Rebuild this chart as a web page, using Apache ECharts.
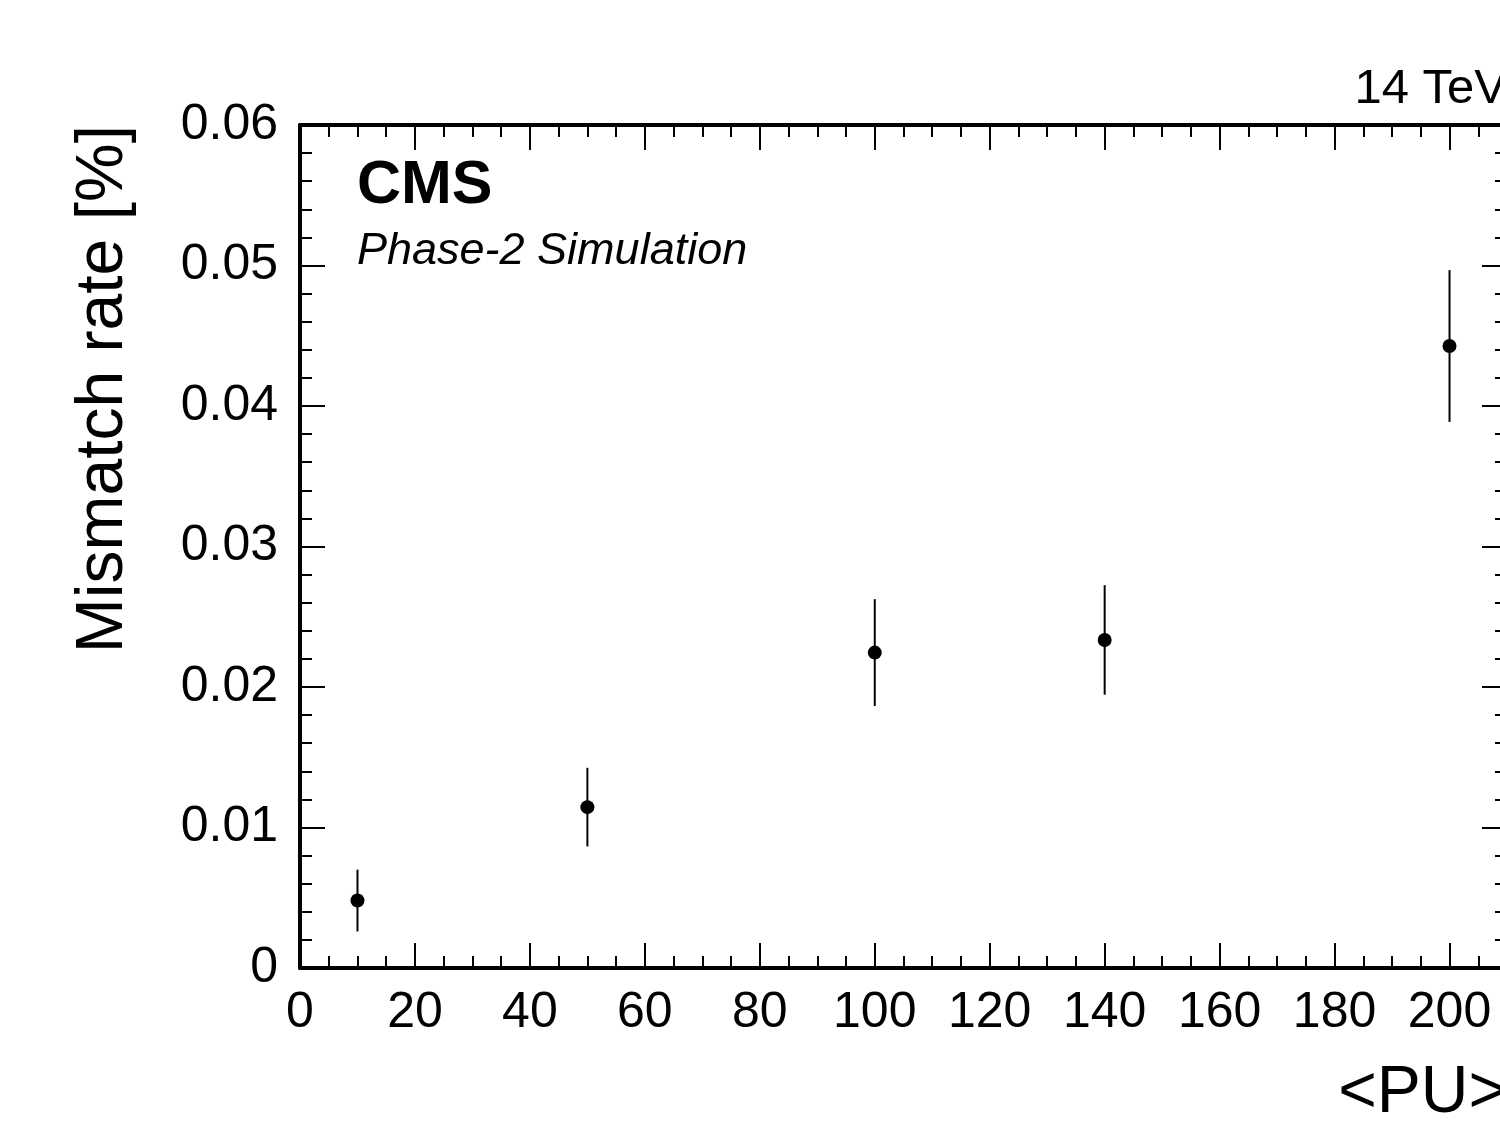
<!DOCTYPE html>
<html>
<head>
<meta charset="utf-8">
<script src="https://cdn.jsdelivr.net/npm/echarts@6/dist/echarts.min.js"></script>
<style>
html,body{margin:0;padding:0;background:#fff;}
#chart{width:1500px;height:1124px;}
</style>
</head>
<body>
<div id="chart"></div>
<script>
// Data
const pu = [10, 50, 100, 140, 200];
const mismatchRate = [0.0048, 0.01145, 0.02245, 0.02335, 0.04427];
const rateError = [0.0022, 0.0028, 0.0038, 0.0039, 0.0054];
const xTicks = [0, 20, 40, 60, 80, 100, 120, 140, 160, 180, 200];
const yTicks = [0, 0.01, 0.02, 0.03, 0.04, 0.05, 0.06];

const FONT = '"Liberation Sans", Arial, Helvetica, sans-serif';

const points = pu.map((x, i) => [x, mismatchRate[i]]);
const errBars = pu.map((x, i) => [x, mismatchRate[i] - rateError[i], mismatchRate[i] + rateError[i]]);

const chart = echarts.init(document.getElementById('chart'), null, {renderer: 'canvas'});

const axisLine = {show: true, onZero: false, lineStyle: {color: '#000', width: 4}};
const tick = (len) => ({show: true, inside: true, length: len, lineStyle: {color: '#000', width: 2}});
const minor = (n) => ({show: true, splitNumber: n, length: 12, lineStyle: {color: '#000', width: 2}});

const xCommon = {
  type: 'value', min: 0, max: 210, interval: 20,
  axisLine: axisLine, axisTick: tick(25), minorTick: minor(4),
  splitLine: {show: false}
};
const yCommon = {
  type: 'value', min: yTicks[0], max: yTicks[yTicks.length - 1], interval: 0.01,
  axisLine: axisLine, axisTick: tick(25), minorTick: minor(5),
  splitLine: {show: false}
};

chart.setOption({
  animation: false,
  backgroundColor: '#fff',
  grid: {left: 300, top: 125, width: 1207, height: 843, containLabel: false, outerBoundsMode: 'none'},
  xAxis: [
    Object.assign({}, xCommon, {
      position: 'bottom',
      axisLabel: {show: true, color: '#000', fontSize: 50, fontFamily: FONT, margin: 20,
        showMaxLabel: false,
        formatter: (v) => (xTicks.indexOf(v) >= 0 ? String(v) : '')}
    }),
    Object.assign({}, xCommon, {position: 'top', axisLabel: {show: false}})
  ],
  yAxis: [
    Object.assign({}, yCommon, {
      position: 'left',
      axisLabel: {show: true, color: '#000', fontSize: 50, fontFamily: FONT, margin: 22,
        padding: [8, 0, 0, 0],
        formatter: (v) => {
          const r = Math.round(v * 100) / 100;
          return r === 0 ? '0' : r.toFixed(2);
        }}
    }),
    Object.assign({}, yCommon, {position: 'right', axisLabel: {show: false}})
  ],
  series: [
    {
      type: 'custom',
      xAxisIndex: 0, yAxisIndex: 0,
      data: errBars,
      renderItem: function (params, api) {
        const lo = api.coord([api.value(0), api.value(1)]);
        const hi = api.coord([api.value(0), api.value(2)]);
        return {
          type: 'line',
          shape: {x1: lo[0], y1: lo[1], x2: hi[0], y2: hi[1]},
          style: {stroke: '#000', lineWidth: 2}
        };
      },
      z: 2
    },
    {
      type: 'scatter',
      xAxisIndex: 0, yAxisIndex: 0,
      data: points,
      symbol: 'circle',
      symbolSize: 14,
      itemStyle: {color: '#000', opacity: 1},
      z: 3
    }
  ],
  graphic: [
    {type: 'text', style: {text: 'CMS', x: 357, y: 186, font: 'bold 61px ' + FONT,
      fill: '#000', textAlign: 'left', textVerticalAlign: 'middle'}},
    {type: 'text', style: {text: 'Phase-2 Simulation', x: 357, y: 251, font: 'italic 45px ' + FONT,
      fill: '#000', textAlign: 'left', textVerticalAlign: 'middle'}},
    {type: 'text', style: {text: '14 TeV', x: 1507, y: 89, font: '49px ' + FONT,
      fill: '#000', textAlign: 'right', textVerticalAlign: 'middle'}},
    {type: 'text', style: {text: '<PU>', x: 1507, y: 1094, font: '66px ' + FONT,
      fill: '#000', textAlign: 'right', textVerticalAlign: 'middle'}},
    {type: 'text', x: 104, y: 125, rotation: Math.PI / 2,
      style: {text: 'Mismatch rate [%]', x: 0, y: 0, font: '66px ' + FONT,
      fill: '#000', textAlign: 'right', textVerticalAlign: 'middle'}}
  ]
});
</script>
</body>
</html>
